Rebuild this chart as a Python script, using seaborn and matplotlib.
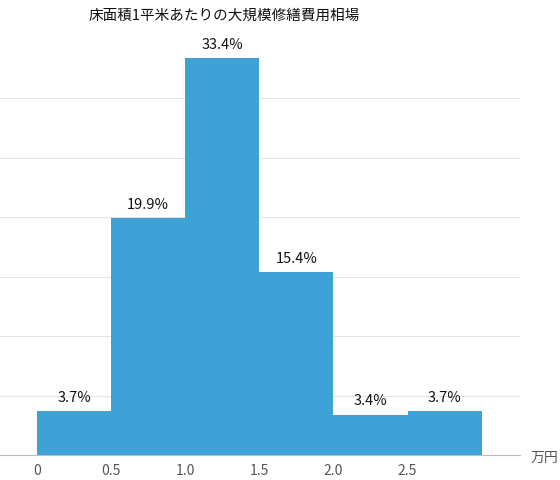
import matplotlib
matplotlib.use("Agg")
import matplotlib.pyplot as plt
import seaborn as sns
import pandas as pd

bin_centers = [0.25, 0.75, 1.25, 1.75, 2.25, 2.75]
shares = [3.7, 19.9, 33.4, 15.4, 3.4, 3.7]
bin_edges = [0, 0.5, 1.0, 1.5, 2.0, 2.5, 3.0]
tick_vals = [0, 0.5, 1.0, 1.5, 2.0, 2.5]
tick_labels = ["0", "0.5", "1.0", "1.5", "2.0", "2.5"]
title = "床面積1平米あたりの大規模修繕費用相場"

sns.set_style("white")
plt.rcParams['font.family'] = ['Noto Sans CJK JP', 'DejaVu Sans']

df = pd.DataFrame({"x": bin_centers, "w": shares})
fig = plt.figure(figsize=(5.6, 4.81), dpi=100)
ax = fig.add_axes([0.0, 0.052, 0.929, 0.878])
sns.histplot(data=df, x="x", weights="w", bins=bin_edges, ax=ax,
             color="#3fa2d6", alpha=1, edgecolor="none", zorder=2)
ax.set_xlim(-0.25, 3.26)
ax.set_ylim(0, 35.5)
ax.set_yticks([0, 5, 10, 15, 20, 25, 30])
ax.set_yticklabels([])
ax.tick_params(axis="y", length=0)
ax.grid(axis="y", color="#e3e3e3", lw=0.8, zorder=0)
ax.set_xticks(tick_vals)
ax.set_xticklabels(tick_labels, fontsize=10, color="#555555")
ax.tick_params(axis="x", length=0, pad=6)
for s in ["top", "right", "left"]:
    ax.spines[s].set_visible(False)
ax.spines["bottom"].set_color("#bbbbbb")
ax.set_xlabel("")
ax.set_ylabel("")
for c, v in zip(bin_centers, shares):
    ax.text(c, v + 0.6, f"{v}%", ha="center", va="bottom", fontsize=10.5, color="#111111")
fig.text(0.948, 0.048, "万円", fontsize=10, color="#555555", va="center", ha="left")
fig.text(0.4, 0.968, title, fontsize=10.5, ha="center", va="center", color="#111111")
fig.savefig("out.png", dpi=100)
